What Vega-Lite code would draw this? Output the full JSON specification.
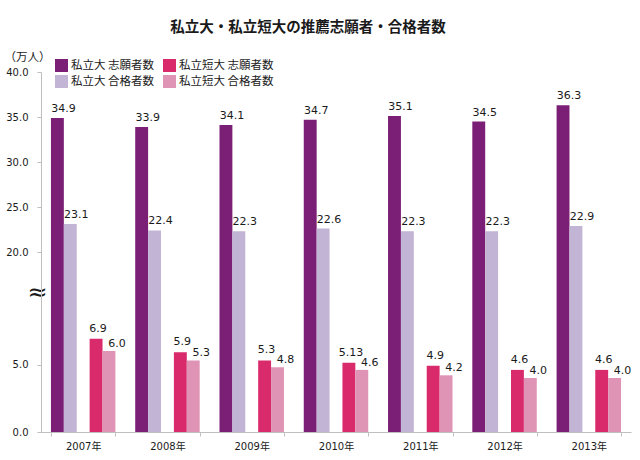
{
  "$schema": "https://vega.github.io/schema/vega-lite/v6.json",
  "width": 590,
  "height": 360,
  "autosize": {"type": "none"},
  "padding": {"left": 41, "top": 72, "right": 9, "bottom": 28},
  "background": "white",
  "title": {
    "text": "私立大・私立短大の推薦志願者・合格者数",
    "font": "Noto Sans CJK JP",
    "fontSize": 14.5,
    "fontWeight": "bold",
    "color": "#1a1a1a",
    "anchor": "middle",
    "frame": "group",
    "dx": -28,
    "offset": 38,
    "baseline": "top",
    "dy": 22
  },
  "config": {"view": {"stroke": null}, "font": "DejaVu Sans, Noto Sans CJK JP"},
  "data": {
    "values": [
      {"year": "2007年", "series": "私立大 志願者数", "value": 34.9, "label": "34.9"},
      {"year": "2007年", "series": "私立大 合格者数", "value": 23.1, "label": "23.1"},
      {"year": "2007年", "series": "私立短大 志願者数", "value": 6.9, "label": "6.9"},
      {"year": "2007年", "series": "私立短大 合格者数", "value": 6.0, "label": "6.0"},
      {"year": "2008年", "series": "私立大 志願者数", "value": 33.9, "label": "33.9"},
      {"year": "2008年", "series": "私立大 合格者数", "value": 22.4, "label": "22.4"},
      {"year": "2008年", "series": "私立短大 志願者数", "value": 5.9, "label": "5.9"},
      {"year": "2008年", "series": "私立短大 合格者数", "value": 5.3, "label": "5.3"},
      {"year": "2009年", "series": "私立大 志願者数", "value": 34.1, "label": "34.1"},
      {"year": "2009年", "series": "私立大 合格者数", "value": 22.3, "label": "22.3"},
      {"year": "2009年", "series": "私立短大 志願者数", "value": 5.3, "label": "5.3"},
      {"year": "2009年", "series": "私立短大 合格者数", "value": 4.8, "label": "4.8"},
      {"year": "2010年", "series": "私立大 志願者数", "value": 34.7, "label": "34.7"},
      {"year": "2010年", "series": "私立大 合格者数", "value": 22.6, "label": "22.6"},
      {"year": "2010年", "series": "私立短大 志願者数", "value": 5.13, "label": "5.13"},
      {"year": "2010年", "series": "私立短大 合格者数", "value": 4.6, "label": "4.6"},
      {"year": "2011年", "series": "私立大 志願者数", "value": 35.1, "label": "35.1"},
      {"year": "2011年", "series": "私立大 合格者数", "value": 22.3, "label": "22.3"},
      {"year": "2011年", "series": "私立短大 志願者数", "value": 4.9, "label": "4.9"},
      {"year": "2011年", "series": "私立短大 合格者数", "value": 4.2, "label": "4.2"},
      {"year": "2012年", "series": "私立大 志願者数", "value": 34.5, "label": "34.5"},
      {"year": "2012年", "series": "私立大 合格者数", "value": 22.3, "label": "22.3"},
      {"year": "2012年", "series": "私立短大 志願者数", "value": 4.6, "label": "4.6"},
      {"year": "2012年", "series": "私立短大 合格者数", "value": 4.0, "label": "4.0"},
      {"year": "2013年", "series": "私立大 志願者数", "value": 36.3, "label": "36.3"},
      {"year": "2013年", "series": "私立大 合格者数", "value": 22.9, "label": "22.9"},
      {"year": "2013年", "series": "私立短大 志願者数", "value": 4.6, "label": "4.6"},
      {"year": "2013年", "series": "私立短大 合格者数", "value": 4.0, "label": "4.0"}
    ]
  },
  "encoding": {
    "x": {
      "field": "year",
      "type": "nominal",
      "scale": {"paddingInner": 0.235, "paddingOuter": 0.118},
      "axis": {
        "title": null,
        "labelAngle": 0,
        "labelFont": "DejaVu Sans, Noto Sans CJK JP",
        "labelFontSize": 10,
        "labelColor": "#1a1a1a",
        "labelPadding": 5,
        "tickBand": "extent",
        "tickSize": 4,
        "tickColor": "#bfbfbf",
        "domainColor": "#bfbfbf",
        "grid": false
      }
    },
    "xOffset": {
      "field": "series",
      "type": "nominal",
      "scale": {
        "domain": ["私立大 志願者数", "私立大 合格者数", "_gap", "私立短大 志願者数", "私立短大 合格者数"],
        "paddingInner": 0,
        "paddingOuter": 0
      }
    },
    "y": {
      "field": "value",
      "type": "quantitative",
      "scale": {"type": "linear", "domain": [0, 7, 20, 40], "range": [360, 265.5, 180, 0], "nice": false, "zero": false},
      "axis": {
        "title": "（万人）",
        "titleAngle": 0,
        "titleAlign": "left",
        "titleBaseline": "middle",
        "titleX": -37,
        "titleY": -15,
        "titleFont": "Noto Sans CJK JP",
        "titleFontSize": 11.5,
        "titleFontWeight": "normal",
        "titleColor": "#1a1a1a",
        "values": [0, 5, 13.8, 20, 25, 30, 35, 40],
        "labelExpr": "datum.value == 13.8 ? '≈' : format(datum.value, '.1f')",
        "labelFont": "DejaVu Sans",
        "labelFontSize": {"condition": {"test": "datum.value == 13.8", "value": 24}, "value": 10},
        "labelPadding": {"condition": {"test": "datum.value == 13.8", "value": -10}, "value": 9},
        "labelColor": "#1a1a1a",
        "tickSize": 4,
        "tickColor": {"condition": {"test": "datum.value == 13.8", "value": "transparent"}, "value": "#bfbfbf"},
        "domainColor": "#bfbfbf",
        "grid": false
      }
    }
  },
  "layer": [
    {
      "mark": {"type": "bar"},
      "encoding": {
        "color": {
          "field": "series",
          "type": "nominal",
          "scale": {
            "domain": ["私立大 志願者数", "私立大 合格者数", "私立短大 志願者数", "私立短大 合格者数"],
            "range": ["#7b1f76", "#c1b4d4", "#d92a6b", "#df94b5"]
          },
          "legend": {
            "title": null,
            "orient": "none",
            "legendX": 14,
            "legendY": -13,
            "columns": 2,
            "symbolType": "square",
            "symbolSize": 169,
            "symbolStrokeWidth": 0,
            "labelFont": "Noto Sans CJK JP",
            "labelFontSize": 11.5,
            "labelColor": "#1a1a1a",
            "labelOffset": 3,
            "columnPadding": 8,
            "rowPadding": 3
          }
        }
      }
    },
    {
      "transform": [{"filter": "datum.series == '私立大 志願者数' || datum.series == '私立大 合格者数'"}],
      "mark": {"type": "text", "baseline": "alphabetic", "dy": -6, "dx": 6, "fontSize": 11, "font": "DejaVu Sans", "color": "#1a1a1a"},
      "encoding": {"text": {"field": "label"}}
    },
    {
      "transform": [{"filter": "datum.series == '私立短大 志願者数'"}],
      "mark": {"type": "text", "baseline": "alphabetic", "dy": -7, "dx": 2, "fontSize": 11, "font": "DejaVu Sans", "color": "#1a1a1a"},
      "encoding": {"text": {"field": "label"}}
    },
    {
      "transform": [{"filter": "datum.series == '私立短大 合格者数'"}],
      "mark": {"type": "text", "baseline": "alphabetic", "dy": -4, "dx": 8, "fontSize": 11, "font": "DejaVu Sans", "color": "#1a1a1a"},
      "encoding": {"text": {"field": "label"}}
    }
  ]
}
